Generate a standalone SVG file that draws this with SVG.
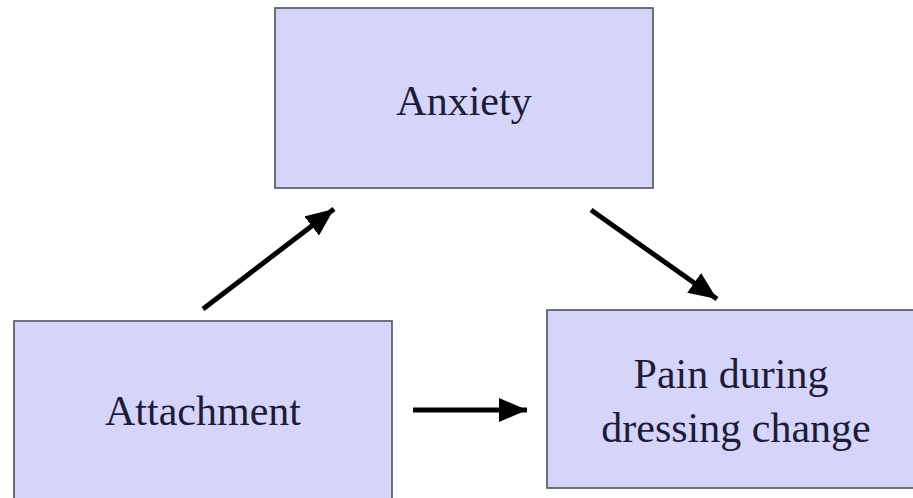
<svg xmlns="http://www.w3.org/2000/svg" width="913" height="498" viewBox="0 0 913 498">
<style>
.box{fill:#d5d5f9;stroke:#505060;stroke-width:1.6}
.lbl{font-family:'Liberation Serif',Tinos,'Times New Roman',Times,serif;font-size:42px;fill:#1c1c3a;text-anchor:middle}
.arr{stroke:#000;stroke-width:5;fill:none;marker-end:url(#ah)}
</style>
<defs>
<marker id="ah" markerUnits="userSpaceOnUse" viewBox="0 0 28 24" refX="28" refY="12" markerWidth="28" markerHeight="24" orient="auto">
<path d="M0,0 L28,12 L0,24 Z" fill="#000"/>
</marker>
</defs>
<rect width="913" height="498" fill="#fff"/>
<g id="anxiety">
<rect class="box" x="275" y="8" width="378" height="180"/>
<text class="lbl" x="464" y="115" font-family="Liberation Serif, serif">Anxiety</text>
</g>
<g id="attachment">
<rect class="box" x="14" y="321" width="378" height="180"/>
<text class="lbl" x="203" y="425">Attachment</text>
</g>
<g id="pain">
<rect class="box" x="547" y="310" width="370" height="178"/>
<text class="lbl" x="731" y="388">Pain during</text>
<text class="lbl" x="736" y="442">dressing change</text>
</g>
<g id="connectors">
<line class="arr" x1="203" y1="309" x2="334" y2="209"/>
<line class="arr" x1="591" y1="210" x2="717" y2="299"/>
<line class="arr" x1="413" y1="410" x2="527" y2="410"/>
</g>
</svg>
